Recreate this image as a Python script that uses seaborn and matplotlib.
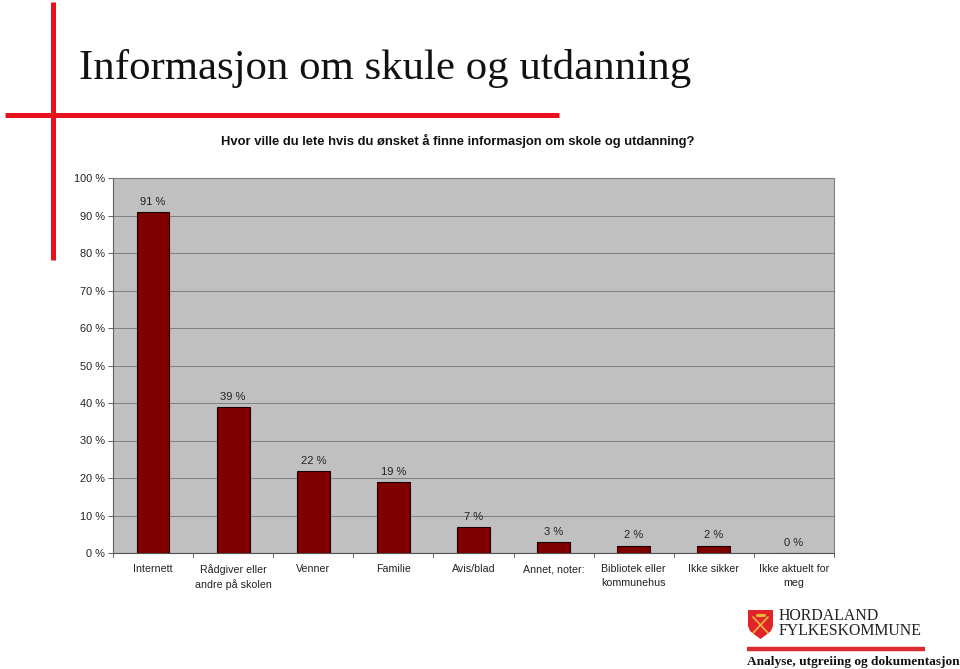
import matplotlib
matplotlib.use('Agg')
import matplotlib.pyplot as plt
from matplotlib.patches import Polygon
import pandas as pd
import seaborn as sns

# chart values
categories = ['Internett', 'Rådgiver eller\nandre på skolen', 'Venner', 'Familie', 'Avis/blad',
              'Annet, noter:', 'Bibliotek eller\nkommunehus', 'Ikke sikker', 'Ikke aktuelt for\nmeg']
values = [91, 39, 22, 19, 7, 3, 2, 2, 0]
y_ticks = [0, 10, 20, 30, 40, 50, 60, 70, 80, 90, 100]

W, H = 960, 669
sns.set_theme(style='white')
plt.rcParams['font.family'] = ['Liberation Sans', 'DejaVu Sans']

df = pd.DataFrame({'category': categories, 'share': values})

fig = plt.figure(figsize=(W / 100, H / 100), dpi=100, facecolor='white')

# page background layer for the slide decoration
bg = fig.add_axes([0, 0, 1, 1], zorder=0)
bg.set_xlim(0, W)
bg.set_ylim(H, 0)
bg.axis('off')
bg.plot([53, 53], [2, 260], color='#e8101a', lw=3.6, solid_capstyle='butt')
bg.plot([5, 559], [115, 115], color='#e8101a', lw=3.6, solid_capstyle='butt')

# Slide title and chart title
bg.text(79, 79, 'Informasjon om skule og utdanning', family='Liberation Serif', fontsize=30.9,
        color='#111111', va='baseline', ha='left')
bg.text(458, 141, 'Hvor ville du lete hvis du ønsket å finne informasjon om skole og utdanning?',
        fontsize=9.35, fontweight='bold', color='#111111', va='center', ha='center')

# Bar chart
ax = fig.add_axes([113 / W, 1 - 553 / H, (834 - 113) / W, (553 - 178) / H], zorder=1)
ax.set_facecolor('#c0c0c0')
sns.barplot(data=df, x='category', y='share', color='#800000', width=0.41, saturation=1,
            edgecolor='#1a0000', linewidth=0.8, ax=ax, zorder=3)
ax.set_xlim(-0.5, len(categories) - 0.5)
ax.set_ylim(0, 100)
ax.set_yticks(y_ticks)
ax.set_yticklabels([f'{t} %' for t in y_ticks])
ax.set_xlabel('')
ax.set_ylabel('')
ax.grid(axis='y', color='#808080', lw=0.7, zorder=1)
ax.set_axisbelow(True)
for side in ['top', 'right', 'left', 'bottom']:
    ax.spines[side].set_color('#808080')
    ax.spines[side].set_linewidth(0.8)
ax.spines['left'].set_color('#606060')
ax.spines['bottom'].set_color('#505050')

ax.tick_params(axis='y', left=True, length=3.6, width=0.7, color='#606060', labelsize=7.9, pad=2,
               labelcolor='#222222')
ax.tick_params(axis='x', bottom=False, labelsize=7.7, pad=2, labelcolor='#222222')
for label in ax.get_xticklabels():
    label.set_linespacing(1.45)
for x in range(len(categories) + 1):
    ax.plot([x - 0.5, x - 0.5], [0, -1], color='#606060', lw=0.7, clip_on=False, zorder=4)

for i, v in enumerate(values):
    ax.annotate(f'{v} %', (i, v), xytext=(0, 7.2), textcoords='offset points', ha='center', va='center',
                fontsize=8, color='#222222', annotation_clip=False)

# Logo and footer
shield = Polygon([(748, 610), (773, 610), (773, 626), (771, 631), (766, 635), (760.5, 639),
                  (755, 635), (750, 631), (748, 626)],
                 closed=True, fc='#e1242a', ec='none')
bg.add_patch(shield)
bg.plot([753, 768], [633, 617], color='#e8b93a', lw=1.2)
bg.plot([768, 753], [633, 617], color='#e8b93a', lw=1.2)
bg.plot([757, 764], [615, 615], color='#e8b93a', lw=2.2)
bg.text(779, 620.5, 'HORDALAND', family='Liberation Serif', fontsize=11.4, color='#222222', va='baseline')
bg.text(779, 635, 'FYLKESKOMMUNE', family='Liberation Serif', fontsize=11.4, color='#222222', va='baseline')
bg.plot([747, 925], [649, 649], color='#d92b30', lw=3.2, solid_capstyle='butt')
bg.text(747, 665, 'Analyse, utgreiing og dokumentasjon', family='Liberation Serif', fontsize=9.6,
        fontweight='bold', color='#111111', va='baseline')

fig.savefig('out.png', dpi=100)
